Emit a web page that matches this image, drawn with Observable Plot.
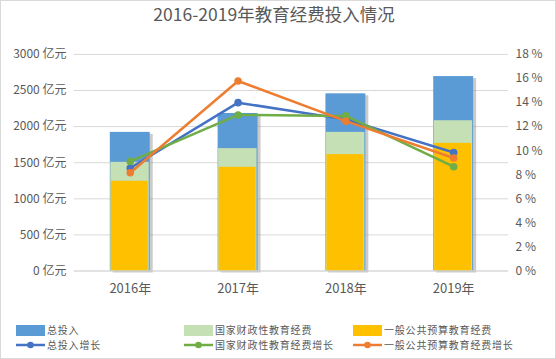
<!DOCTYPE html>
<html><head><meta charset="utf-8">
<script src="https://cdn.jsdelivr.net/npm/d3@7"></script>
<script src="https://cdn.jsdelivr.net/npm/@observablehq/plot@0.6"></script>
<style>
body{margin:0;background:#fff;}
#wrap{position:relative;width:556px;height:359px;box-sizing:border-box;border:1px solid #d9d9d9;font-family:"Noto Sans CJK SC","Noto Sans",sans-serif;color:#595959;overflow:hidden;background:#fff}
#title{position:absolute;left:-1px;width:548px;text-align:center;top:0px;font-size:17.5px;line-height:26px;color:#595959;}
#chart{position:absolute;left:-1px;top:-1px;}
.lg{position:absolute;font-size:10px;line-height:10px;height:10px;color:#595959;white-space:nowrap;letter-spacing:0.8px}
.sw{position:absolute}
</style></head><body>
<div id="wrap"><div id="chart"></div><div id="title">2016-2019年教育经费投入情况</div><div id="legend"></div></div>
<script>
const years = ["2016年","2017年","2018年","2019年"];
const totalInput = [1920, 2182, 2454, 2693];
const fiscalEdu = [1505, 1695, 1920, 2081];
const publicBudgetEdu = [1243, 1436, 1612, 1768];
const totalGrowth = [8.56, 13.99, 12.6, 9.85];
const fiscalGrowth = [9.11, 12.97, 12.89, 8.67];
const budgetGrowth = [8.17, 15.79, 12.45, 9.39];
const leftTicks = [0, 500, 1000, 1500, 2000, 2500, 3000];
const rightTicks = [0, 2, 4, 6, 8, 10, 12, 14, 16, 18];
const seriesNames = ["总投入","国家财政性教育经费","一般公共预算教育经费","总投入增长","国家财政性教育经费增长","一般公共预算教育经费增长"];
const barColors = ["#5B9BD5","#C5E0B4","#FFC000"];
const lineColors = ["#4472C4","#70AD47","#ED7D31"];

const k = 3000 / 18;
const rows = years.map((y, i) => ({year: y, total: totalInput[i], fiscal: fiscalEdu[i], budget: publicBudgetEdu[i]}));
const mk = arr => years.map((y, i) => ({year: y, v: arr[i]}));
const lt = mk(totalGrowth), lf = mk(fiscalGrowth), lb = mk(budgetGrowth);

const chart = Plot.plot({
  width: 556, height: 359,
  marginTop: 54, marginBottom: 88, marginLeft: 74, marginRight: 47,
  x: {domain: years, paddingInner: 0.63, paddingOuter: 0.315, label: null},
  y: {domain: [0, 3000], label: null},
  style: {fontFamily: '"Noto Sans CJK SC","Noto Sans",sans-serif', fontSize: "12px", color: "#595959", background: "transparent", overflow: "visible"},
  marks: [
    Plot.gridY(leftTicks, {stroke: "#d9d9d9", strokeOpacity: 1}),
    Plot.barY(rows, {x: "year", y: "total", fill: "#8c8c8c", fillOpacity: 0.45, dx: 3, dy: 2}),
    Plot.barY(rows, {x: "year", y: "total", fill: barColors[0]}),
    Plot.barY(rows, {x: "year", y: "fiscal", fill: barColors[1], insetLeft: 0.5, insetRight: 1}),
    Plot.barY(rows, {x: "year", y: "budget", fill: barColors[2], insetLeft: 1, insetRight: 2}),
    Plot.ruleY([0], {stroke: "#d9d9d9"}),
    Plot.axisY(leftTicks, {anchor: "left", tickSize: 0, tickPadding: 8, tickFormat: d => d + " 亿元", fontSize: 12}),
    Plot.axisY(rightTicks.map(d => d * k), {anchor: "right", tickSize: 0, tickPadding: 7, tickFormat: d => Math.round(d / k) + " %", fontSize: 12}),
    Plot.axisX({tickSize: 0, tickPadding: 13, fontSize: 13, label: null}),
    Plot.line(lt, {x: "year", y: d => d.v * k, stroke: lineColors[0], strokeWidth: 2.5}),
    Plot.dot(lt, {x: "year", y: d => d.v * k, fill: lineColors[0], r: 3.8}),
    Plot.line(lf, {x: "year", y: d => d.v * k, stroke: lineColors[1], strokeWidth: 2.5}),
    Plot.dot(lf, {x: "year", y: d => d.v * k, fill: lineColors[1], r: 3.8}),
    Plot.line(lb, {x: "year", y: d => d.v * k, stroke: lineColors[2], strokeWidth: 2.5}),
    Plot.dot(lb, {x: "year", y: d => d.v * k, fill: lineColors[2], r: 3.8})
  ]
});
document.getElementById("chart").appendChild(chart);

// legend
const legend = document.getElementById("legend");
const cols = [15, 183, 352];
seriesNames.forEach((name, i) => {
  const c = i % 3, row = Math.floor(i / 3);
  const x = cols[c];
  if (row === 0) {
    const s = document.createElement("div");
    s.className = "sw";
    s.style.cssText = `left:${x}px;top:324px;width:29px;height:11px;background:${barColors[c]}`;
    legend.appendChild(s);
  } else {
    const s = document.createElementNS("http://www.w3.org/2000/svg", "svg");
    s.setAttribute("width", 30); s.setAttribute("height", 10);
    s.style.cssText = `position:absolute;left:${x}px;top:338.5px`;
    s.innerHTML = `<line x1="0" x2="29" y1="5" y2="5" stroke="${lineColors[c]}" stroke-width="2.5"/><circle cx="14.5" cy="5" r="3.3" fill="${lineColors[c]}"/>`;
    legend.appendChild(s);
  }
  const t = document.createElement("div");
  t.className = "lg";
  t.textContent = name;
  t.style.left = (x + 31) + "px";
  t.style.top = (row === 0 ? 323.5 : 338.5) + "px";
  legend.appendChild(t);
});
</script>
</body></html>
